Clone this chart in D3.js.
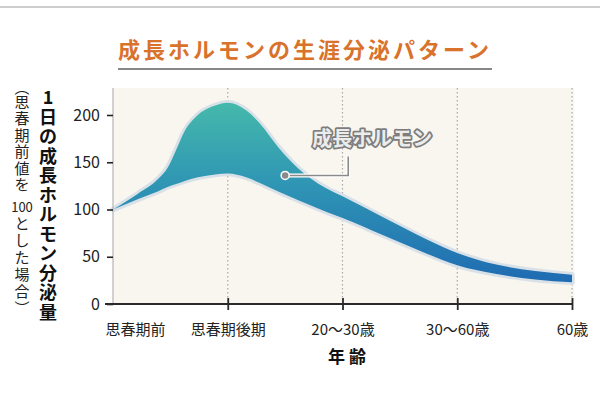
<!DOCTYPE html>
<html>
<head>
<meta charset="utf-8">
<script src="https://cdn.jsdelivr.net/npm/d3@7"></script>
<style>
body { margin: 0; background: #fff; }
text { font-family: "Noto Sans CJK JP", "Noto Sans", sans-serif; }
</style>
</head>
<body>
<script>
//Width and height
var w = 600;
var h = 394;

// categories on the x axis (stage of life)
var stages = ["思春期前", "思春期後期", "20〜30歳", "30〜60歳", "60歳"];
var yTicks = [0, 50, 100, 150, 200];

// band of secretion (position in stage units)
var pos   = [0, 0.22, 0.39, 0.48, 0.55, 0.62, 0.74, 0.89, 1.0, 1.16, 1.28, 1.44, 1.61, 1.85, 2.0, 2.35, 2.74, 3.0, 3.33, 3.68, 4.0];
var upper = [100, 117, 132, 145, 163, 182, 200, 210, 213, 205, 191, 166, 144, 123, 114, 92, 68, 54, 42, 35, 31];
var lower = [100, 111, 119, 124, 127, 130, 134, 137, 138, 134, 128, 119, 110, 98, 91, 73, 53, 41, 32, 26, 23];

var title = "成長ホルモンの生涯分泌パターン";
var yTitle = ["1", "日", "の", "成", "長", "ホ", "ル", "モ", "ン", "分", "泌", "量"];
var yNote = ["︵", "思", "春", "期", "前", "値", "を", "100", "と", "し", "た", "場", "合", "︶"];
var label = "成長ホルモン";

var left = 113, right = 572, plotTop = 88, bottom = 304;

var xScale = d3.scaleLinear().domain([0, 4]).range([left, right]);
var yScale = d3.scaleLinear().domain([0, 200]).range([bottom, 115]);

var svg = d3.select("body").append("svg")
    .attr("width", w)
    .attr("height", h);

// top rule
svg.append("line")
    .attr("x1", 0).attr("x2", w).attr("y1", 7).attr("y2", 7)
    .attr("stroke", "#bcbcbc").attr("stroke-width", 1.5);

// title with underline
svg.append("text")
    .attr("x", 305).attr("y", 58)
    .attr("text-anchor", "middle")
    .attr("font-size", 22).attr("font-weight", "bold")
    .attr("letter-spacing", 3)
    .attr("fill", "#d9722b")
    .text(title);
svg.append("line")
    .attr("x1", 118).attr("x2", 492).attr("y1", 69).attr("y2", 69)
    .attr("stroke", "#111").attr("stroke-width", 1.2);

// plot background
svg.append("rect")
    .attr("x", left).attr("y", plotTop)
    .attr("width", right - left + 2).attr("height", bottom - plotTop)
    .attr("fill", "#f9f5ef");

// dotted vertical grid
svg.append("g").selectAll("line")
    .data(d3.range(1, stages.length))
    .enter().append("line")
    .attr("x1", d => xScale(d)).attr("x2", d => xScale(d))
    .attr("y1", plotTop).attr("y2", bottom)
    .attr("stroke", "#a9a9a9").attr("stroke-width", 1.2)
    .attr("stroke-dasharray", "1.5,2.5");

// gradient for the band
var defs = svg.append("defs");
var grad = defs.append("linearGradient")
    .attr("id", "band")
    .attr("gradientUnits", "userSpaceOnUse")
    .attr("x1", 0).attr("y1", yScale(213))
    .attr("x2", 0).attr("y2", yScale(25));
grad.append("stop").attr("offset", "0%").attr("stop-color", "#45b9ab");
grad.append("stop").attr("offset", "45%").attr("stop-color", "#2f96b4");
grad.append("stop").attr("offset", "100%").attr("stop-color", "#1f6cb2");

var area = d3.area()
    .x((d, i) => xScale(pos[i]))
    .y0((d, i) => yScale(lower[i]))
    .y1((d, i) => yScale(upper[i]))
    .curve(d3.curveMonotoneX);

// halo then fill
svg.append("path")
    .datum(pos)
    .attr("d", area)
    .attr("fill", "none")
    .attr("stroke", "#d9e1e8")
    .attr("stroke-width", 5.5)
    .attr("stroke-linejoin", "round");
svg.append("path")
    .datum(pos)
    .attr("d", area)
    .attr("fill", "url(#band)");

// y axis
var yAxis = svg.append("g")
    .attr("transform", "translate(" + left + ",0)")
    .call(d3.axisLeft(yScale).tickValues(yTicks).tickSize(6).tickPadding(7));
yAxis.select(".domain")
    .attr("d", "M0," + plotTop + "V" + bottom)
    .attr("stroke", "#b5b5b5").attr("stroke-width", 1.2);
yAxis.selectAll(".tick line").attr("stroke", "#222").attr("stroke-width", 1.6);
yAxis.selectAll(".tick text")
    .attr("font-size", 16).attr("fill", "#222")
    .style("font-family", "'Noto Sans CJK JP', sans-serif");

// x axis
var xAxis = svg.append("g")
    .attr("transform", "translate(0," + bottom + ")")
    .call(d3.axisBottom(xScale).tickValues(d3.range(stages.length))
        .tickFormat(i => stages[i]).tickSize(6).tickPadding(14));
xAxis.select(".domain")
    .attr("d", "M" + (left - 8) + ",0H" + right)
    .attr("stroke", "#2a2a2a").attr("stroke-width", 2);
xAxis.selectAll(".tick line")
    .attr("y1", -6).attr("y2", 6)
    .attr("stroke", "#2a2a2a").attr("stroke-width", 1.8)
    .attr("display", d => d === 0 ? "none" : null);
xAxis.selectAll(".tick text")
    .attr("font-size", 15).attr("fill", "#222")
    .style("font-family", "'Noto Sans CJK JP', sans-serif")
    .attr("text-anchor", d => d === 0 ? "start" : "middle")
    .attr("dx", d => d === 0 ? -8 : 0);

// x axis title
svg.append("text")
    .attr("x", 349).attr("y", 363)
    .attr("text-anchor", "middle")
    .attr("font-size", 17).attr("font-weight", "bold")
    .attr("letter-spacing", 4)
    .attr("fill", "#111")
    .text("年齢");

// y axis title, one character per row
svg.append("g").selectAll("text")
    .data(yTitle)
    .enter().append("text")
    .attr("x", 48)
    .attr("y", (d, i) => 98 + i * 19.5)
    .attr("dy", "0.36em")
    .attr("text-anchor", "middle")
    .attr("font-size", 18).attr("font-weight", "bold")
    .attr("fill", "#111")
    .text(d => d);

// bracketed note, "100" stays horizontal
var noteY = [88, 102.5, 119, 135.5, 152, 168.5, 185, 207, 224, 241, 258, 275, 292, 309];
svg.append("g").selectAll("text")
    .data(yNote)
    .enter().append("text")
    .attr("x", 22)
    .attr("y", (d, i) => noteY[i])
    .attr("dy", "0.36em")
    .attr("text-anchor", "middle")
    .attr("font-size", d => d === "100" ? 13 : 15)
    .attr("fill", "#222")
    .text(d => d);

// annotation
var dot = [1.5, 136], elbow = [2.05, 156];
svg.append("path")
    .attr("d", "M" + xScale(dot[0]) + "," + yScale(dot[1]) +
        "H" + xScale(elbow[0]) + "V" + yScale(elbow[1]))
    .attr("fill", "none").attr("stroke", "#fff").attr("stroke-width", 4);
svg.append("path")
    .attr("d", "M" + xScale(dot[0]) + "," + yScale(dot[1]) +
        "H" + xScale(elbow[0]) + "V" + yScale(elbow[1]))
    .attr("fill", "none").attr("stroke", "#8a8a8a").attr("stroke-width", 1.6);
svg.append("circle")
    .attr("cx", xScale(dot[0])).attr("cy", yScale(dot[1]))
    .attr("r", 4)
    .attr("fill", "#8a8a8a").attr("stroke", "#fff").attr("stroke-width", 1.5);

svg.append("text")
    .attr("x", xScale(2.26)).attr("y", yScale(167))
    .attr("text-anchor", "middle")
    .attr("font-size", 20).attr("font-weight", "bold")
    .attr("fill", "#ececec")
    .attr("stroke", "#7d7d7d").attr("stroke-width", 3.5)
    .attr("stroke-linejoin", "round")
    .attr("paint-order", "stroke")
    .text(label);
</script>
</body>
</html>
